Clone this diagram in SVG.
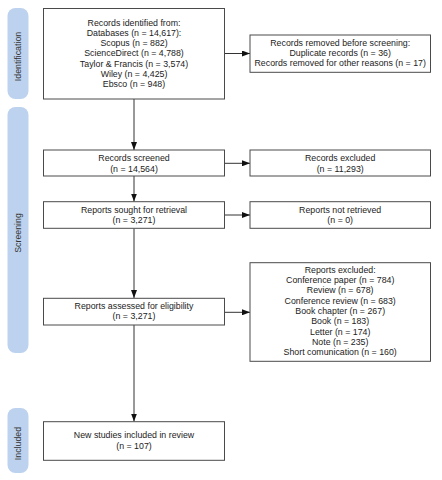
<svg xmlns="http://www.w3.org/2000/svg" width="442" height="480" viewBox="0 0 442 480">
<style>
.box{fill:#fff;stroke:#4a4a4a;stroke-width:1}
.pill{fill:#bdd2ee}
text{font-family:"Liberation Sans",Arial,sans-serif;font-size:8.8px;fill:#222;text-anchor:middle}
.lbl{fill:#333}
.con{stroke:#333;stroke-width:1;fill:none;marker-end:url(#ah)}
</style>
<defs>
<marker id="ah" viewBox="0 0 10 10" refX="10" refY="5" markerWidth="8" markerHeight="6" markerUnits="userSpaceOnUse" orient="auto" preserveAspectRatio="none">
<path d="M0,0 L10,5 L0,10 z" fill="#111"/>
</marker>
</defs>
<rect width="442" height="480" fill="#fff"/>
<g id="phase-identification">
<rect class="pill" x="7.5" y="8" width="21" height="91" rx="8"/>
<text class="lbl" transform="translate(20.5,56.5) rotate(-90)">Identification</text>
</g>
<g id="phase-screening">
<rect class="pill" x="7.5" y="107" width="21" height="246" rx="8"/>
<text class="lbl" transform="translate(20.5,233) rotate(-90)">Screening</text>
</g>
<g id="phase-included">
<rect class="pill" x="7.5" y="408" width="21" height="65" rx="8"/>
<text class="lbl" transform="translate(20.5,443.5) rotate(-90)">Included</text>
</g>
<g id="connectors">
<line class="con" x1="134" y1="99" x2="134" y2="150"/>
<line class="con" x1="134" y1="176" x2="134" y2="201.5"/>
<line class="con" x1="134" y1="228.5" x2="134" y2="298"/>
<line class="con" x1="134" y1="325" x2="134" y2="421.5"/>
<line class="con" x1="224.5" y1="53.5" x2="250" y2="53.5"/>
<line class="con" x1="224.5" y1="163.3" x2="250" y2="163.3"/>
<line class="con" x1="224.5" y1="215" x2="250" y2="215"/>
<line class="con" x1="224.5" y1="312.3" x2="250" y2="312.3"/>
</g>
<g id="node-identified">
<rect class="box" x="43.5" y="8.5" width="181" height="90.5"/>
<text x="134" y="25.7">Records identified from:</text>
<text x="134" y="35.9">Databases (n = 14,617):</text>
<text x="134" y="46.1">Scopus (n = 882)</text>
<text x="134" y="56.3">ScienceDirect (n = 4,788)</text>
<text x="134" y="66.5">Taylor &amp; Francis (n = 3,574)</text>
<text x="134" y="76.7">Wiley (n = 4,425)</text>
<text x="134" y="86.9">Ebsco (n = 948)</text>
</g>
<g id="node-removed">
<rect class="box" x="250" y="35" width="180.5" height="37.3"/>
<text x="340.2" y="45.7">Records removed before screening:</text>
<text x="340.2" y="55.9">Duplicate records (n = 36)</text>
<text x="340.2" y="66.3">Records removed for other reasons (n = 17)</text>
</g>
<g id="node-screened">
<rect class="box" x="43.5" y="150" width="181" height="26"/>
<text x="134" y="161">Records screened</text>
<text x="134" y="171.7">(n = 14,564)</text>
</g>
<g id="node-excluded">
<rect class="box" x="250" y="150" width="180.5" height="26"/>
<text x="340.2" y="161">Records excluded</text>
<text x="340.2" y="171.7">(n = 11,293)</text>
</g>
<g id="node-sought">
<rect class="box" x="43.5" y="201.7" width="181" height="26.6"/>
<text x="134" y="212.7">Reports sought for retrieval</text>
<text x="134" y="223.3">(n = 3,271)</text>
</g>
<g id="node-not-retrieved">
<rect class="box" x="250" y="201.7" width="180.5" height="26.6"/>
<text x="340.2" y="212.7">Reports not retrieved</text>
<text x="340.2" y="223.3">(n = 0)</text>
</g>
<g id="node-assessed">
<rect class="box" x="43.5" y="298.3" width="181" height="26.7"/>
<text x="134" y="308.7">Reports assessed for eligibility</text>
<text x="134" y="319.3">(n = 3,271)</text>
</g>
<g id="node-reports-excluded">
<rect class="box" x="250" y="262.7" width="180.5" height="98.6"/>
<text x="340.2" y="272.7">Reports excluded:</text>
<text x="340.2" y="283">Conference paper (n = 784)</text>
<text x="340.2" y="293.3">Review (n = 678)</text>
<text x="340.2" y="303.6">Conference review (n = 683)</text>
<text x="340.2" y="313.9">Book chapter (n = 267)</text>
<text x="340.2" y="324.2">Book (n = 183)</text>
<text x="340.2" y="334.5">Letter (n = 174)</text>
<text x="340.2" y="344.8">Note (n = 235)</text>
<text x="340.2" y="355.1">Short comunication (n = 160)</text>
</g>
<g id="node-included">
<rect class="box" x="43.5" y="421.7" width="181" height="38.6"/>
<text x="134" y="438.3">New studies included in review</text>
<text x="134" y="449.3">(n = 107)</text>
</g>
</svg>
